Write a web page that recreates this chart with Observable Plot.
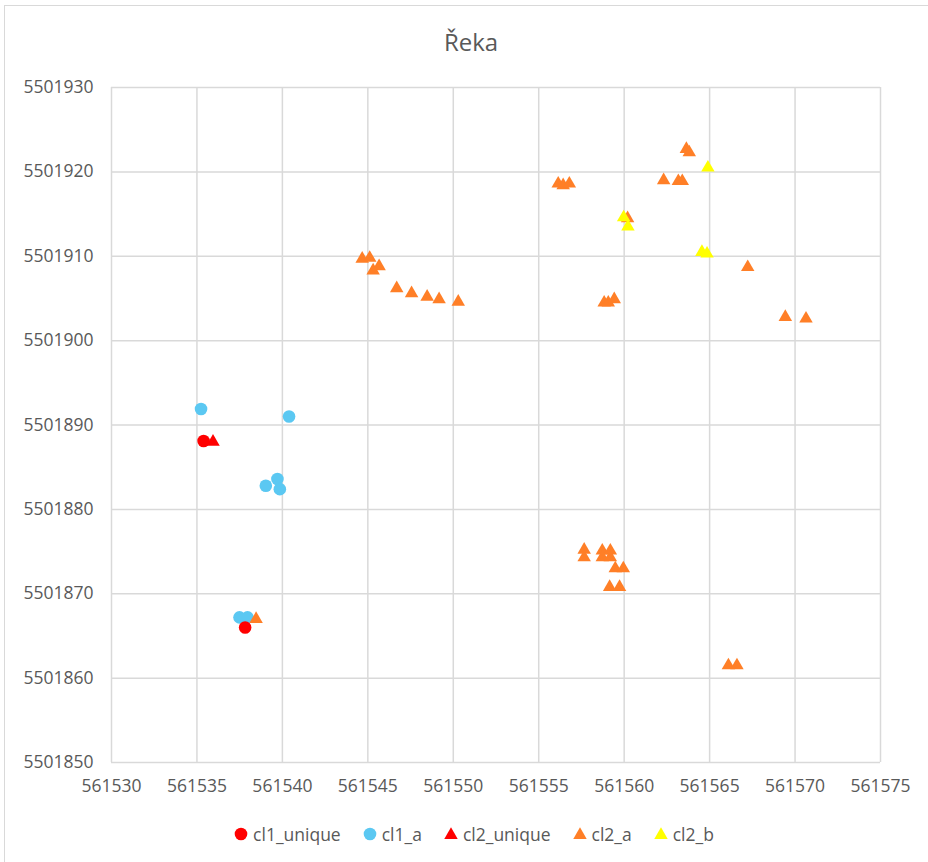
<!DOCTYPE html>
<html>
<head>
<meta charset="utf-8">
<script src="https://cdn.jsdelivr.net/npm/d3@7"></script>
<script src="https://cdn.jsdelivr.net/npm/@observablehq/plot@0.6"></script>
<style>
  html, body { margin: 0; padding: 0; background: #fff; overflow: hidden; }
  #wrap { position: relative; width: 928px; height: 862px; font-family: "Open Sans", sans-serif; color: #595959; }
  #border { position: absolute; left: 4px; top: 5px; width: 1000px; height: 1000px; border: 1.5px solid #d9d9d9; box-sizing: border-box; }
  #title { position: absolute; left: 0; width: 942px; top: 26px; text-align: center; font-size: 24px; line-height: 32px; }
  #chart { position: absolute; left: 0; top: 0; }
  #legend { position: absolute; left: 0; width: 948px; top: 822px; display: flex; justify-content: center; align-items: center; font-size: 17.5px; line-height: 24px; }
  .item { display: flex; align-items: center; margin: 0 11px; }
  .item svg { margin-right: 5px; }
</style>
</head>
<body>
<div id="wrap">
  <div id="border"></div>
  <div id="chart"></div>
  <div id="title">Řeka</div>
  <div id="legend"></div>
</div>
<script>
// Tick values
const xTicks = [561530, 561535, 561540, 561545, 561550, 561555, 561560, 561565, 561570, 561575];
const yTicks = [5501850, 5501860, 5501870, 5501880, 5501890, 5501900, 5501910, 5501920, 5501930];

// Series names, colours and symbols
const seriesNames = ["cl1_unique", "cl1_a", "cl2_unique", "cl2_a", "cl2_b"];
const seriesColors = ["#ff0000", "#5bc8f2", "#ff0000", "#ff7f27", "#ffff00"];
const seriesSymbols = ["circle", "circle", "triangle", "triangle", "triangle"];

// Data: [x, y]
const cl1_unique = [
  [561535.39, 5501888.1],
  [561537.82, 5501866.0]
];
const cl1_a = [
  [561535.24, 5501891.9],
  [561540.39, 5501891.0],
  [561539.03, 5501882.8],
  [561539.71, 5501883.6],
  [561539.85, 5501882.4],
  [561537.49, 5501867.2],
  [561537.96, 5501867.2]
];
const cl2_unique = [
  [561535.94, 5501888.0]
];
const cl2_a = [
  [561538.46, 5501867.0],
  [561544.67, 5501909.7],
  [561545.11, 5501909.8],
  [561545.66, 5501908.8],
  [561545.31, 5501908.3],
  [561546.69, 5501906.2],
  [561547.56, 5501905.6],
  [561548.47, 5501905.2],
  [561549.17, 5501904.9],
  [561550.29, 5501904.6],
  [561556.14, 5501918.6],
  [561556.43, 5501918.4],
  [561556.79, 5501918.6],
  [561562.31, 5501919.0],
  [561563.17, 5501918.9],
  [561563.40, 5501918.9],
  [561563.64, 5501922.7],
  [561563.81, 5501922.3],
  [561560.20, 5501914.5],
  [561558.83, 5501904.5],
  [561559.07, 5501904.5],
  [561559.42, 5501904.9],
  [561567.23, 5501908.7],
  [561569.43, 5501902.8],
  [561570.64, 5501902.6],
  [561557.66, 5501875.2],
  [561557.66, 5501874.3],
  [561558.72, 5501875.1],
  [561559.19, 5501875.1],
  [561558.72, 5501874.3],
  [561559.19, 5501874.3],
  [561559.48, 5501873.0],
  [561559.95, 5501873.0],
  [561559.15, 5501870.8],
  [561559.73, 5501870.8],
  [561566.10, 5501861.5],
  [561566.60, 5501861.5]
];
const cl2_b = [
  [561564.90, 5501920.5],
  [561559.97, 5501914.6],
  [561560.22, 5501913.5],
  [561564.55, 5501910.5],
  [561564.85, 5501910.3]
];

const seriesData = [cl1_unique, cl1_a, cl2_unique, cl2_a, cl2_b];
const drawOrder = [1, 0, 2, 3, 4];

const fmt = d => String(d);
const gridStyle = {stroke: "#d9d9d9", strokeOpacity: 1, strokeWidth: 1.5};

const dotMarks = drawOrder.map(i => Plot.dot(seriesData[i], {
  x: d => d[0],
  y: d => d[1],
  r: seriesSymbols[i] === "circle" ? 6.3 : 5.0,
  symbol: seriesSymbols[i],
  fill: seriesColors[i],
  stroke: "none"
}));

const plot = Plot.plot({
  width: 928,
  height: 862,
  marginLeft: 111,
  marginRight: 48,
  marginTop: 87,
  marginBottom: 100,
  style: {background: "transparent", fontFamily: "Open Sans, sans-serif", fontSize: "17.5px", color: "#595959", overflow: "visible"},
  x: {domain: [561530, 561575]},
  y: {domain: [5501850, 5501930]},
  marks: [
    Plot.gridX(xTicks, gridStyle),
    Plot.gridY(yTicks, gridStyle),
    Plot.axisX(xTicks, {tickSize: 0, tickPadding: 17, tickFormat: fmt, label: null, fill: "#595959"}),
    Plot.axisY(yTicks, {tickSize: 0, tickPadding: 18, tickFormat: fmt, label: null, fill: "#595959"}),
    ...dotMarks
  ]
});
document.getElementById("chart").appendChild(plot);

// Legend
const legend = document.getElementById("legend");
seriesNames.forEach((name, i) => {
  const item = document.createElement("div");
  item.className = "item";
  const shape = seriesSymbols[i] === "circle"
    ? `<circle cx="7" cy="7" r="6.3" fill="${seriesColors[i]}"/>`
    : `<path d="${d3.symbol(d3.symbolTriangle, Math.PI * 5 * 5)()}" transform="translate(7,8)" fill="${seriesColors[i]}"/>`;
  item.innerHTML = `<svg width="14" height="14">${shape}</svg><span>${name}</span>`;
  legend.appendChild(item);
});
</script>
</body>
</html>
